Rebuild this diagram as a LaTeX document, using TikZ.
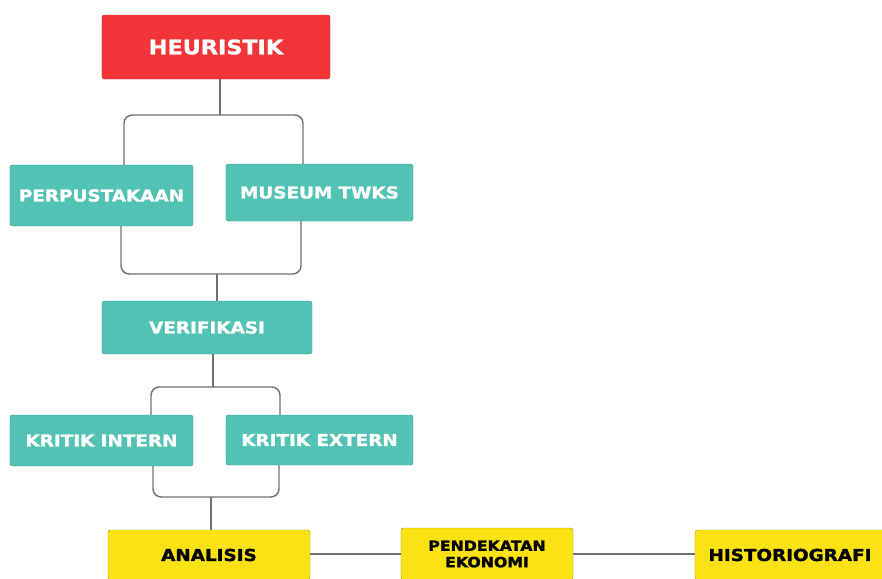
\documentclass[tikz,border=0pt]{standalone}
\usepackage{fontspec}
\newfontfamily\boxfont{DejaVu Sans}[FakeStretch=1.12, FakeBold=1.6]
\usetikzlibrary{calc}
\definecolor{heurred}{RGB}{240,52,56}
\definecolor{tealbox}{RGB}{82,194,180}
\definecolor{tealedge}{RGB}{62,160,148}
\definecolor{yellbox}{RGB}{250,226,20}
\definecolor{yelledge}{RGB}{170,150,20}
\definecolor{conngrey}{RGB}{112,112,112}
\tikzset{
  box/.style={rounded corners=2pt, inner sep=0pt, align=center, font=\boxfont\bfseries\fontsize{14}{16}\selectfont},
  redbox/.style={box, fill=heurred, draw=heurred!85!black, text=white},
  tbox/.style={box, fill=tealbox, draw=tealedge, text=white},
  ybox/.style={box, fill=yellbox, draw=yelledge, text=black},
  conn/.style={conngrey, line width=1.2pt, rounded corners=7pt}
}
\begin{document}
\begin{tikzpicture}[x=0.03cm, y=-0.03cm]
\useasboundingbox (0,0) rectangle (882,578);

\node[redbox, minimum width=6.84cm, minimum height=1.92cm, font=\boxfont\bfseries\fontsize{17}{19}\selectfont] (heur) at (216,47) {HEURISTIK};
\node[tbox, minimum width=5.49cm, minimum height=1.83cm] (perp) at (101.5,195.5) {PERPUSTAKAAN};
\node[tbox, minimum width=5.61cm, minimum height=1.71cm] (mus) at (319.5,192.5) {MUSEUM TWKS};
\node[tbox, minimum width=6.30cm, minimum height=1.59cm] (verif) at (207,327.5) {VERIFIKASI};
\node[tbox, minimum width=5.49cm, minimum height=1.53cm] (kin) at (101.5,440.5) {KRITIK INTERN};
\node[tbox, minimum width=5.61cm, minimum height=1.50cm] (kex) at (319.5,440) {KRITIK EXTERN};
\node[ybox, minimum width=6.06cm, minimum height=1.50cm] (anal) at (209,555) {ANALISIS};
\node[ybox, minimum width=5.16cm, minimum height=1.56cm, font=\boxfont\bfseries\fontsize{12}{14}\selectfont] (pend) at (487,554) {PENDEKATAN\\EKONOMI};
\node[ybox, minimum width=5.70cm, minimum height=1.50cm] (hist) at (790,555) {HISTORIOGRAFI};

\coordinate (j1) at (220,115);
\draw[conn] (j1 |- heur.south) -- (j1);
\draw[conn] ($(perp.north)+(22.5,0)$) |- (j1) -| ($(mus.north)+(-16.5,0)$);

\coordinate (j2) at (217,274);
\draw[conn] ($(perp.south)+(19.5,0)$) |- (j2) -| ($(mus.south)+(-18.5,0)$);
\draw[conn] (j2) -- (j2 |- verif.north);

\coordinate (j3) at (213,387);
\draw[conn] (j3 |- verif.south) -- (j3);
\draw[conn] ($(kin.north)+(49.5,0)$) |- (j3) -| ($(kex.north)+(-39.5,0)$);

\coordinate (j4) at (211,497);
\draw[conn] ($(kin.south)+(51.5,0)$) |- (j4) -| ($(kex.south)+(-40.5,0)$);
\draw[conn] (j4) -- (j4 |- anal.north);

\coordinate (j5) at (0,554);
\draw[conn] (anal.east |- j5) -- (pend.west |- j5);
\draw[conn] (pend.east |- j5) -- (hist.west |- j5);
\end{tikzpicture}
\end{document}
